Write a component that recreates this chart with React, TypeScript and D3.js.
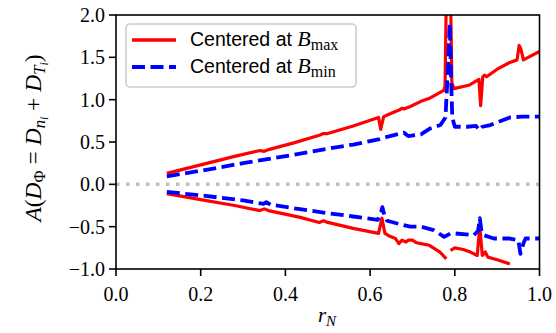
import React, { useRef, useEffect } from 'react';
import * as d3 from 'd3';

// [r_N, A] pairs
const bmaxUpper: [number, number][] = [
  [0.12, 0.13], [0.20, 0.23], [0.28, 0.33], [0.34, 0.40], [0.35, 0.39], [0.36, 0.41],
  [0.42, 0.49], [0.48, 0.58], [0.49, 0.60], [0.50, 0.60], [0.56, 0.69], [0.62, 0.79],
  [0.625, 0.65], [0.632, 0.80], [0.65, 0.84], [0.67, 0.88], [0.675, 0.90], [0.68, 0.89],
  [0.695, 0.92], [0.72, 0.98], [0.742, 1.02], [0.774, 1.11], [0.777, 1.16], [0.781, 2.6],
  [0.789, 2.6], [0.793, 1.2], [0.798, 1.13], [0.833, 1.17], [0.857, 1.24], [0.861, 0.93],
  [0.866, 1.27], [0.870, 1.29], [0.875, 1.27], [0.90, 1.36], [0.93, 1.44], [0.947, 1.47],
  [0.952, 1.64], [0.956, 1.60], [0.962, 1.47], [1.0, 1.57],
];

const bminUpper: [number, number][] = [
  [0.12, 0.095], [0.20, 0.16], [0.30, 0.25], [0.41, 0.34], [0.50, 0.42], [0.56, 0.47],
  [0.62, 0.53], [0.64, 0.56], [0.68, 0.61], [0.69, 0.57], [0.72, 0.59], [0.742, 0.66],
  [0.766, 0.70], [0.778, 0.79], [0.785, 1.5], [0.788, 1.90], [0.791, 1.3], [0.794, 0.79],
  [0.80, 0.68], [0.83, 0.68], [0.85, 0.69], [0.858, 0.64], [0.865, 0.68], [0.884, 0.70],
  [0.93, 0.79], [0.96, 0.80], [1.0, 0.80],
];

// the lower red curve has a gap near r_N = 0.785 (NaN in the data)
const bmaxLower: [number, number][] = [
  [0.12, -0.11], [0.20, -0.18], [0.28, -0.25], [0.34, -0.31], [0.35, -0.29], [0.36, -0.31],
  [0.435, -0.39], [0.48, -0.45], [0.49, -0.43], [0.50, -0.45], [0.56, -0.52], [0.62, -0.58],
  [0.628, -0.40], [0.635, -0.58], [0.645, -0.61], [0.66, -0.64], [0.668, -0.70], [0.675, -0.66],
  [0.685, -0.68], [0.69, -0.66], [0.70, -0.66], [0.71, -0.69], [0.72, -0.70], [0.74, -0.72],
  [0.765, -0.80], [0.78, -0.88], [0.784, NaN],
  [0.79, -0.78], [0.80, -0.75], [0.82, -0.77], [0.837, -0.80], [0.853, -0.84], [0.859, -0.50],
  [0.865, -0.84], [0.872, -0.80], [0.878, -0.86], [0.90, -0.89], [0.93, -0.94],
];

const bminLower: [number, number][] = [
  [0.12, -0.09], [0.20, -0.13], [0.30, -0.19], [0.348, -0.23], [0.355, -0.21], [0.365, -0.24],
  [0.43, -0.29], [0.50, -0.34], [0.56, -0.38], [0.618, -0.42], [0.626, -0.33], [0.629, -0.27],
  [0.634, -0.37], [0.64, -0.43], [0.67, -0.47], [0.695, -0.50], [0.72, -0.50], [0.75, -0.54],
  [0.775, -0.62], [0.79, -0.58], [0.80, -0.58], [0.845, -0.60], [0.855, -0.55], [0.859, -0.40],
  [0.863, -0.55], [0.868, -0.60], [0.892, -0.64], [0.93, -0.64], [0.95, -0.66], [0.955, -0.82],
  [0.962, -0.70], [0.967, -0.64], [1.0, -0.64],
];

const xTicks = [0, 0.2, 0.4, 0.6, 0.8, 1.0];
const yTicks = [-1.0, -0.5, 0, 0.5, 1.0, 1.5, 2.0];

const RED = '#ff0000';
const BLUE = '#0000ff';
const SERIF = '"Liberation Serif", "DejaVu Serif", serif';
const SANS = '"Liberation Sans", Arial, sans-serif';

const App = () => {
  const svgRef = useRef<SVGSVGElement>(null);

  useEffect(() => {
    const svg = d3.select(svgRef.current);
    svg.selectAll('*').remove();

    const left = 116, right = 539.5, top = 15, bottom = 269;
    const x = d3.scaleLinear().domain([0, 1]).range([left, right]);
    const y = d3.scaleLinear().domain([-1, 2]).range([bottom, top]);

    svg.append('defs').append('clipPath').attr('id', 'plotclip')
      .append('rect').attr('x', left).attr('y', top)
      .attr('width', right - left).attr('height', bottom - top);

    const plot = svg.append('g').attr('clip-path', 'url(#plotclip)');

    // zero reference line
    plot.append('line')
      .attr('x1', left).attr('x2', right)
      .attr('y1', y(0)).attr('y2', y(0))
      .attr('stroke', '#bfbfbf').attr('stroke-width', 3.5)
      .attr('stroke-dasharray', '3.5,6.5');

    const line = d3.line<[number, number]>()
      .defined(d => !isNaN(d[1]))
      .x(d => x(d[0]))
      .y(d => y(d[1]));

    const series = [
      { data: bmaxUpper, color: RED, width: 3.2, dash: null },
      { data: bmaxLower, color: RED, width: 3.2, dash: null },
      { data: bminUpper, color: BLUE, width: 3.8, dash: '13,5.5' },
      { data: bminLower, color: BLUE, width: 3.8, dash: '13,5.5' },
    ];
    series.forEach(s => {
      plot.append('path')
        .datum(s.data)
        .attr('fill', 'none')
        .attr('stroke', s.color)
        .attr('stroke-width', s.width)
        .attr('stroke-linejoin', 'round')
        .attr('stroke-dasharray', s.dash)
        .attr('d', line);
    });

    // frame
    svg.append('rect')
      .attr('x', left).attr('y', top)
      .attr('width', right - left).attr('height', bottom - top)
      .attr('fill', 'none').attr('stroke', 'black').attr('stroke-width', 1.6);

    // x ticks
    const xg = svg.append('g');
    xTicks.forEach(t => {
      xg.append('line').attr('x1', x(t)).attr('x2', x(t))
        .attr('y1', bottom).attr('y2', bottom + 7)
        .attr('stroke', 'black').attr('stroke-width', 1.6);
      xg.append('text').attr('x', x(t)).attr('y', 301)
        .attr('text-anchor', 'middle')
        .attr('font-family', SERIF).attr('font-size', 20)
        .text(t.toFixed(1));
    });

    // y ticks
    const yg = svg.append('g');
    yTicks.forEach(t => {
      yg.append('line').attr('x1', left - 7).attr('x2', left)
        .attr('y1', y(t)).attr('y2', y(t))
        .attr('stroke', 'black').attr('stroke-width', 1.6);
      yg.append('text').attr('x', left - 11).attr('y', y(t) + 7)
        .attr('text-anchor', 'end')
        .attr('font-family', SERIF).attr('font-size', 20)
        .text(t.toFixed(1).replace('-', '\u2212'));
    });

    // x label: r_N
    const xl = svg.append('text')
      .attr('x', 327).attr('y', 322)
      .attr('text-anchor', 'middle')
      .attr('font-family', SERIF).attr('font-size', 21);
    xl.append('tspan').attr('font-style', 'italic').text('r');
    xl.append('tspan').attr('font-style', 'italic').attr('font-size', 15).attr('dy', 4).text('N');

    // y label: A(D_Φ = D_{n_i} + D_{T_i})
    const yl = svg.append('text')
      .attr('transform', `translate(41,138) rotate(-90)`)
      .attr('text-anchor', 'middle')
      .attr('font-family', SERIF).attr('font-size', 23.5);
    yl.append('tspan').attr('font-style', 'italic').text('A');
    yl.append('tspan').text('(');
    yl.append('tspan').attr('font-style', 'italic').text('D');
    yl.append('tspan').attr('font-size', 16.5).attr('dy', 4).text('\u03A6');
    yl.append('tspan').attr('dy', -4).text(' = ');
    yl.append('tspan').attr('font-style', 'italic').text('D');
    yl.append('tspan').attr('font-style', 'italic').attr('font-size', 16.5).attr('dy', 4).text('n');
    yl.append('tspan').attr('font-style', 'italic').attr('font-size', 12).attr('dy', 3).text('i');
    yl.append('tspan').attr('dy', -7).text(' + ');
    yl.append('tspan').attr('font-style', 'italic').text('D');
    yl.append('tspan').attr('font-style', 'italic').attr('font-size', 16.5).attr('dy', 4).text('T');
    yl.append('tspan').attr('font-style', 'italic').attr('font-size', 12).attr('dy', 3).text('i');
    yl.append('tspan').attr('dy', -7).text(')');

    // legend
    const lg = svg.append('g');
    lg.append('rect')
      .attr('x', 126).attr('y', 24).attr('width', 230).attr('height', 63)
      .attr('rx', 4).attr('fill', 'white').attr('fill-opacity', 0.8)
      .attr('stroke', '#cccccc').attr('stroke-width', 1.6);
    const entries = [
      { color: RED, width: 3.5, dash: null, sub: 'max', y: 40 },
      { color: BLUE, width: 4, dash: '13,5.5', sub: 'min', y: 67 },
    ];
    entries.forEach(e => {
      lg.append('line')
        .attr('x1', 132).attr('x2', 176).attr('y1', e.y).attr('y2', e.y)
        .attr('stroke', e.color).attr('stroke-width', e.width)
        .attr('stroke-dasharray', e.dash);
      const t = lg.append('text')
        .attr('x', 190).attr('y', e.y + 6)
        .attr('font-family', SANS).attr('font-size', 19.5);
      t.append('tspan').text('Centered at ');
      t.append('tspan').attr('font-family', SERIF).attr('font-style', 'italic')
        .attr('font-size', 22).text('B');
      t.append('tspan').attr('font-family', SERIF).attr('font-size', 16)
        .attr('dy', 4).text(e.sub);
    });
  }, []);

  return (
    <svg ref={svgRef} width={556} height={333}
      style={{ position: 'absolute', left: 0, top: 0, background: 'white' }} />
  );
};

export default App;
